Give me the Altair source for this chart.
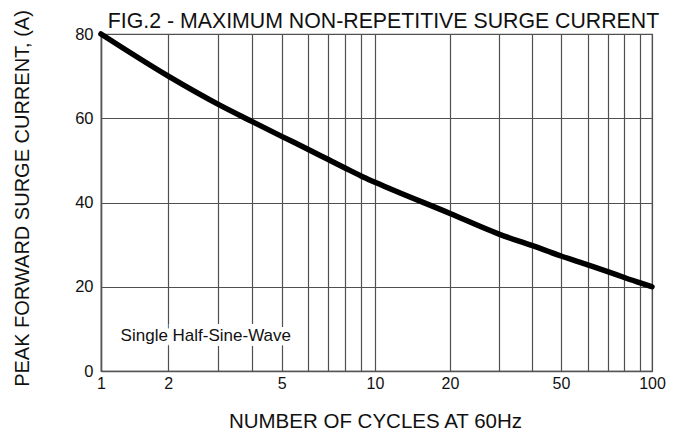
import altair as alt
import pandas as pd

# Data
cycles = [1, 2, 3, 4, 5, 6, 7, 8, 9, 10, 20, 30, 40, 50, 60, 70, 80, 90, 100]
current = [80, 70.0, 63.3, 59.2, 55.7, 52.6, 50.2, 48.2, 46.3, 44.8,
           37.4, 32.5, 29.8, 27.3, 25.2, 23.6, 22.2, 20.9, 20.0]
x_labels = [1, 2, 5, 10, 20, 50, 100]
y_ticks = [0, 20, 40, 60, 80]
title_text = "FIG.2 - MAXIMUM NON-REPETITIVE SURGE CURRENT"
note_text = "Single Half-Sine-Wave"

# The printed grid is not a true log grid: screen position of each gridline (layout)
x_grid_px = [0, 67.3, 117.3, 151.3, 180.7, 207.3, 227.3, 244, 260, 274,
             349, 398, 430.7, 460, 486.7, 506.7, 523.3, 539.3, 551]

W, H = 551, 337
FONT = "Liberation Sans"
TXT = "#111111"

df = pd.DataFrame({"cycles": cycles, "current": current})
note = pd.DataFrame({"cycles": [2.75], "current": [8.2], "t": [note_text]})
ttl = pd.DataFrame({"t": [title_text]})

xscale = alt.Scale(type="linear", domain=cycles, range=x_grid_px, clamp=True)
yscale = alt.Scale(domain=[0, 80], nice=False)

label_expr = ("indexof([" + ",".join(str(v) for v in x_labels) +
              "], datum.value) >= 0 ? datum.label : ''")

xaxis = alt.Axis(values=cycles, tickCount=100, labelExpr=label_expr, grid=True, ticks=False,
                 labelFontSize=16, labelPadding=4, labelColor=TXT, labelFont=FONT,
                 title="NUMBER OF CYCLES AT 60Hz", titleFontSize=20.5, titleFont=FONT,
                 titleFontWeight="normal", titleColor=TXT, titleX=274, titleY=50,
                 titleBaseline="middle", titleAlign="center",
                 domainColor="#555555", domainWidth=1.5,
                 gridColor="#505050", gridWidth=1.2, gridOpacity=1, labelFlush=False,
                 labelOverlap=False)
yaxis = alt.Axis(values=y_ticks, tickCount=100, grid=True, ticks=False,
                 labelFontSize=16.5, labelPadding=8, labelColor=TXT, labelFont=FONT,
                 title="PEAK FORWARD SURGE CURRENT, (A)", titleFontSize=20, titleFont=FONT,
                 titleFontWeight="normal", titleColor=TXT, titleX=-79, titleY=164,
                 titleAngle=270, titleBaseline="middle", titleAlign="center",
                 domainColor="#555555", domainWidth=1.5,
                 gridColor="#505050", gridWidth=1.2, gridOpacity=1)

line = alt.Chart(df).mark_line(color="black", strokeWidth=5.5, interpolate="monotone",
                               strokeCap="round").encode(
    x=alt.X("cycles:Q", scale=xscale, axis=xaxis),
    y=alt.Y("current:Q", scale=yscale, axis=yaxis),
)

note_bg = alt.Chart(note).mark_text(font=FONT, fontSize=17, color="white",
                                    stroke="white", strokeWidth=10,
                                    align="center", baseline="middle").encode(
    x=alt.X("cycles:Q", scale=xscale), y=alt.Y("current:Q", scale=yscale), text="t:N")
note_txt = alt.Chart(note).mark_text(font=FONT, fontSize=17, color=TXT,
                                     align="center", baseline="middle").encode(
    x=alt.X("cycles:Q", scale=xscale), y=alt.Y("current:Q", scale=yscale), text="t:N")

title_mark = alt.Chart(ttl).mark_text(font=FONT, fontSize=21.3, color=TXT,
                                      align="center", baseline="alphabetic").encode(
    x=alt.value(282.5), y=alt.value(-6), text="t:N")

chart = alt.layer(note_bg, line, note_txt, title_mark).properties(
    width=W, height=H,
    padding={"left": 93, "top": 26, "right": 15, "bottom": 59},
    autosize=alt.AutoSizeParams(type="none"),
).configure_view(stroke="#555555", strokeWidth=1.2)

chart.save("out.html", embed_options={"renderer": "svg", "actions": False})
